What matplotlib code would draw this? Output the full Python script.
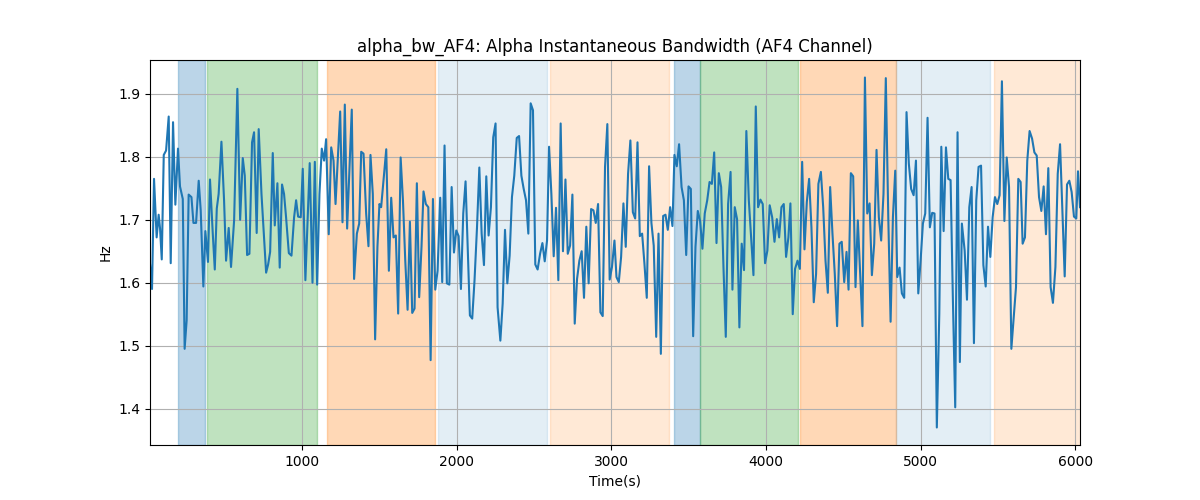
import numpy as np
import matplotlib
matplotlib.use("Agg")
import matplotlib.pyplot as plt

# time (s) and bandwidth (Hz)
time_s = [16, 29, 42, 59, 72, 81, 92, 105, 120, 137, 150, 165, 180, 197, 210, 228, 240, 253, 266, 284,
          297, 314, 331, 344, 361, 374, 391, 404, 422, 435, 448, 460, 478, 495, 508, 525, 540, 560, 581, 599,
          616, 629, 644, 659, 676, 689, 706, 719, 737, 767,
          780, 793, 810, 823, 840, 855, 870, 883, 896, 914, 931, 948, 961, 974, 991, 1004, 1021, 1049, 1067, 1082,
          1097, 1112, 1127, 1142, 1155, 1172, 1188, 1203, 1216, 1246, 1261, 1276, 1291, 1321, 1336, 1354, 1369, 1382,
          1397, 1414, 1429, 1442, 1457, 1472, 1487, 1500, 1511,
          1544, 1561, 1576, 1591, 1606, 1621, 1637, 1652, 1667, 1682, 1697, 1712, 1727, 1742, 1757, 1772, 1785, 1800,
          1816, 1831, 1846, 1861, 1876, 1893, 1906, 1921, 1936, 1952, 1967, 1982, 1997, 2012, 2027, 2042, 2057, 2072,
          2085, 2100, 2115, 2131, 2146, 2161, 2176, 2191, 2206, 2221, 2236, 2251, 2264,
          2282, 2297, 2312, 2327, 2342, 2357, 2372, 2388, 2403, 2418, 2433, 2448, 2463, 2478, 2493, 2508, 2523, 2539,
          2554, 2569, 2584, 2597, 2612, 2627, 2642, 2657, 2672, 2687, 2703, 2718, 2733, 2748, 2763, 2778, 2793, 2808,
          2823, 2838, 2853, 2869, 2884, 2899, 2914, 2929, 2944, 2959, 2974, 2989, 3004, 3020,
          3033, 3048, 3063, 3078, 3093, 3108, 3123, 3139, 3154, 3169, 3184, 3199, 3214, 3229, 3244, 3259, 3274, 3290,
          3305, 3320, 3335, 3350, 3365, 3380, 3395, 3408, 3423, 3438, 3454, 3469, 3484, 3499, 3514, 3529, 3544, 3559,
          3574, 3589, 3604, 3620, 3635, 3650, 3665, 3680, 3695, 3710, 3725, 3740, 3755, 3771,
          3783, 3798, 3813, 3828, 3843, 3858, 3873, 3889, 3904, 3919, 3934, 3949, 3964, 3979, 3994, 4009, 4024, 4040,
          4055, 4070, 4085, 4100, 4115, 4130, 4145, 4158, 4173, 4188, 4204, 4219, 4234, 4249, 4264, 4279, 4294, 4309,
          4324, 4339, 4355, 4370, 4385, 4400, 4415, 4430, 4445, 4460, 4475, 4490, 4506, 4521,
          4534, 4549, 4564, 4579, 4594, 4609, 4624, 4640, 4655, 4670, 4685, 4700, 4715, 4730, 4745, 4760, 4775, 4791,
          4806, 4821, 4836, 4849, 4864, 4879, 4894, 4909, 4924, 4939, 4955, 4970, 4985, 5000, 5015, 5030, 5045, 5060,
          5075, 5090, 5105, 5121, 5134, 5149, 5164, 5179, 5194, 5209, 5224, 5239, 5254, 5267,
          5285, 5300, 5315, 5330, 5345, 5360, 5375, 5391, 5406, 5421, 5436, 5451, 5466, 5481, 5496, 5511, 5526, 5542,
          5557, 5572, 5587, 5602, 5617, 5632, 5647, 5660, 5675, 5690, 5705, 5721, 5736, 5751, 5766, 5781, 5796, 5811,
          5826, 5841, 5856, 5872, 5887, 5902, 5917, 5932, 5947, 5962, 5977, 5992, 6007, 6018, 6031]

alpha_bw = [1.630, 1.590, 1.765, 1.672, 1.708, 1.686, 1.637, 1.803, 1.810, 1.864, 1.631, 1.855, 1.724, 1.813, 1.753, 1.733, 1.495, 1.540, 1.740, 1.736,
            1.695, 1.695, 1.762, 1.715, 1.594, 1.682, 1.633, 1.764, 1.678, 1.621, 1.718, 1.741, 1.824, 1.731, 1.635, 1.687, 1.625, 1.699, 1.908, 1.700,
            1.798, 1.770, 1.644, 1.646, 1.823, 1.839, 1.679, 1.844, 1.741, 1.616,
            1.629, 1.649, 1.806, 1.691, 1.758, 1.624, 1.756, 1.741, 1.704, 1.647, 1.643, 1.704, 1.731, 1.705, 1.704, 1.781, 1.604, 1.790, 1.600, 1.792,
            1.597, 1.741, 1.813, 1.794, 1.828, 1.677, 1.815, 1.794, 1.725, 1.872, 1.696, 1.883, 1.686, 1.875, 1.606, 1.678, 1.694, 1.808,
            1.805, 1.710, 1.658, 1.803, 1.741, 1.510, 1.657, 1.725, 1.720,
            1.812, 1.619, 1.735, 1.672, 1.675, 1.551, 1.799, 1.731, 1.635, 1.557, 1.697, 1.552, 1.559, 1.758, 1.577, 1.657, 1.745, 1.725,
            1.720, 1.477, 1.733, 1.589, 1.619, 1.735, 1.601, 1.818, 1.599, 1.597, 1.752, 1.648, 1.683, 1.674, 1.590, 1.710, 1.761, 1.646,
            1.548, 1.543, 1.604, 1.688, 1.783, 1.678, 1.628, 1.769, 1.675, 1.720, 1.831, 1.853, 1.561,
            1.508, 1.567, 1.684, 1.599, 1.643, 1.736, 1.770, 1.830, 1.833, 1.770, 1.749, 1.731, 1.678, 1.885, 1.874, 1.629, 1.621, 1.646,
            1.663, 1.634, 1.667, 1.816, 1.741, 1.642, 1.719, 1.604, 1.853, 1.650, 1.764, 1.646, 1.659, 1.740, 1.535, 1.606, 1.635, 1.650,
            1.576, 1.689, 1.599, 1.717, 1.715, 1.695, 1.725, 1.553, 1.547, 1.784, 1.852, 1.605, 1.625, 1.667,
            1.609, 1.601, 1.641, 1.726, 1.657, 1.773, 1.826, 1.712, 1.702, 1.823, 1.674, 1.678, 1.630, 1.576, 1.785, 1.695, 1.659, 1.514,
            1.678, 1.487, 1.706, 1.708, 1.684, 1.720, 1.690, 1.803, 1.785, 1.820, 1.752, 1.731, 1.644, 1.753, 1.749, 1.515, 1.657, 1.714,
            1.698, 1.654, 1.710, 1.731, 1.760, 1.757, 1.807, 1.663, 1.774, 1.752, 1.625, 1.514, 1.725, 1.776,
            1.589, 1.720, 1.701, 1.529, 1.662, 1.620, 1.841, 1.731, 1.672, 1.612, 1.880, 1.720, 1.732, 1.725, 1.631, 1.651, 1.723, 1.704,
            1.665, 1.701, 1.672, 1.720, 1.725, 1.641, 1.672, 1.726, 1.550, 1.622, 1.635, 1.622, 1.792, 1.653, 1.728, 1.765, 1.688, 1.569,
            1.614, 1.757, 1.776, 1.720, 1.635, 1.584, 1.752, 1.678, 1.614, 1.531, 1.662, 1.665, 1.601, 1.649,
            1.589, 1.774, 1.769, 1.593, 1.699, 1.614, 1.531, 1.926, 1.710, 1.726, 1.612, 1.662, 1.811, 1.704, 1.667, 1.741, 1.925, 1.704,
            1.538, 1.704, 1.778, 1.609, 1.624, 1.583, 1.576, 1.871, 1.789, 1.749, 1.739, 1.794, 1.583, 1.635, 1.694, 1.710, 1.862, 1.688,
            1.711, 1.710, 1.370, 1.551, 1.816, 1.682, 1.815, 1.765, 1.763, 1.572, 1.402, 1.839, 1.474, 1.694,
            1.651, 1.573, 1.720, 1.752, 1.504, 1.731, 1.784, 1.786, 1.628, 1.594, 1.689, 1.641, 1.704, 1.736, 1.725, 1.739, 1.920, 1.698,
            1.799, 1.752, 1.495, 1.545, 1.593, 1.765, 1.760, 1.662, 1.672, 1.794, 1.841, 1.829, 1.807, 1.802, 1.736, 1.714, 1.753, 1.677,
            1.782, 1.593, 1.568, 1.625, 1.773, 1.820, 1.715, 1.610, 1.756, 1.762, 1.744, 1.705, 1.702, 1.777, 1.720]

# shaded segments: start, end, colour, alpha
seg_start = [197, 383, 1164, 1880, 2605, 3408, 3571, 4217, 4843, 5478]
seg_end = [374, 1095, 1859, 2586, 3373, 3571, 4210, 4838, 5446, 6040]
seg_color = ['tab:blue', 'tab:green', 'tab:orange', 'tab:blue', 'tab:orange',
             'tab:blue', 'tab:green', 'tab:orange', 'tab:blue', 'tab:orange']
seg_alpha = [0.3, 0.3, 0.3, 0.12, 0.17, 0.3, 0.3, 0.3, 0.12, 0.17]

t = np.array(time_s)
v = np.array(alpha_bw)

fig, ax = plt.subplots(figsize=(12, 5), dpi=100)
for s, e, c, a in zip(seg_start, seg_end, seg_color, seg_alpha):
    ax.axvspan(s, e, color=c, alpha=a)
ax.plot(t, v, color='tab:blue', linewidth=1.5)
ax.set_xlim(t.min(), t.max())
ax.grid(True)
ax.set_title('alpha_bw_AF4: Alpha Instantaneous Bandwidth (AF4 Channel)')
ax.set_xlabel('Time(s)')
ax.set_ylabel('Hz')
fig.savefig('out.png')
